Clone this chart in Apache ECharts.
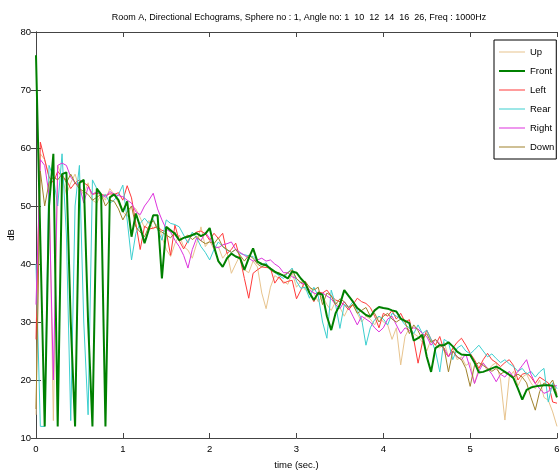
<!DOCTYPE html>
<html>
<head>
<meta charset="utf-8">
<script src="https://cdn.jsdelivr.net/npm/echarts@6/dist/echarts.min.js"></script>
<style>html,body{margin:0;padding:0;background:#fff}#c{width:560px;height:473px}</style>
</head>
<body>
<div id="c"></div>
<script>
const titleText = 'Room A, Directional Echograms, Sphere no : 1, Angle no: 1  10  12  14  16  26, Freq : 1000Hz';
const seriesNames = ['Up', 'Front', 'Left', 'Rear', 'Right', 'Down'];
const xTickLabels = ['0', '1', '2', '3', '4', '5', '6'];
const yTickLabels = ['10', '20', '30', '40', '50', '60', '70', '80'];

const time = [0,0.05,0.1,0.15,0.2,0.25,0.3,0.35,0.4,0.45,0.5,0.55,0.6,0.65,0.7,0.75,0.8,0.85,0.9,0.95,
1,1.05,1.1,1.15,1.2,1.25,1.3,1.35,1.4,1.45,1.5,1.55,1.6,1.65,1.7,1.75,1.8,1.85,1.9,1.95,
2,2.05,2.1,2.15,2.2,2.25,2.3,2.35,2.4,2.45,2.5,2.55,2.6,2.65,2.7,2.75,2.8,2.85,2.9,2.95,
3,3.05,3.1,3.15,3.2,3.25,3.3,3.35,3.4,3.45,3.5,3.55,3.6,3.65,3.7,3.75,3.8,3.85,3.9,3.95,
4,4.05,4.1,4.15,4.2,4.25,4.3,4.35,4.4,4.45,4.5,4.55,4.6,4.65,4.7,4.75,4.8,4.85,4.9,4.95,
5,5.05,5.1,5.15,5.2,5.25,5.3,5.35,5.4,5.45,5.5,5.55,5.6,5.65,5.7,5.75,5.8,5.85,5.9,5.95,6];

const up = [14,59,58,55,13,57,55,52,54,55.5,53,52,54,51,50.5,52,51,53,52,50.5,
49,48.2,50,49.5,48,46.2,47.5,46,47,44.7,42.5,41.3,43.5,45,43,42.4,41,43.5,46.4,43,
44,42.5,43,41,42,38.4,40,41.5,39,38.5,40.5,39.5,35,32.3,36,38,37.5,37,36.5,38.5,
36,37,35.5,36,35,33.5,34.5,33,32,33.5,32.5,31,32.5,33,31.5,30,31,30.5,29.5,31,
30,29.5,27,29,22.6,27.5,29,28,27.5,26.5,25,27,26,25.5,26.5,24,25.5,23.5,24,22.5,
23,19.4,22,23,21.5,22.5,23,20,13.1,20.5,21.5,19,20.5,21,19.5,18.5,20,17,16.5,14.5,12];

const front = [76,44,12,50,59,12,55.5,55.8,30,12,54,54.5,30,12,53,52,12,51.5,52,51,
49,50.8,44.7,48.7,46.4,43.6,46,48.4,48.4,37.5,46.4,45.8,45.2,44.1,44.5,44.7,45,45.3,44.8,45.2,
46.2,43,40.5,39.5,41,41.8,41.3,41,39,41,42.7,40.4,40,39.8,39.2,38.7,38.3,38,37.5,38.7,
38.5,37.5,36.7,35,33.8,35,34.7,31,28.6,31.5,33,35.5,34.5,33.5,32.4,31.8,31.2,30.9,32,32.6,
32.4,32.3,32,31.8,30.6,30.2,29.8,26.8,27.2,27.8,24,21.4,25.5,26,26,26.5,25.8,24.9,24.4,24.3,
24.3,23,21.3,21.4,21.7,22,22.3,21.9,21.4,20.9,20.3,18.5,16.6,18.3,18.7,18.9,19,19.1,19.1,19,17];

const left = [27,61,58,55,54,56,55,54.5,53,54,54.5,54,53.5,52,52.2,52,51.8,52.1,52,52.3,
51,53.5,51.4,47,42.5,46.5,46,46.2,46.4,45.8,45.6,41.5,46.7,44,42.6,44,45,45.5,45.7,45.2,
44.1,45.3,44.4,45.3,41.8,42.5,43.6,41,37.5,34.1,38.4,39,39.5,39.4,39.3,36.7,37.8,36.7,37,37.2,
34,35.5,37,35,33.5,35.2,35,35.5,34.5,33.8,33.5,33,32.1,33,34.1,33.5,33.2,32.5,31,29,
31.5,31,32,30.5,31.5,30,30.4,27,22.9,26.5,28.6,27,26,27.5,25,24,25.5,26.5,27.2,26,
24.6,23.5,22,23.5,24.6,23.5,23,22.3,23,23.5,22.5,20,21,21.2,20.5,19.4,20.5,20,19.5,16.2,16];

const rear = [40,12,12,57,55,50,59,45,13,50,57,30,14,54.5,53,51.5,52,50.5,51,52,
53.6,47.6,40.7,45.3,47,47.9,47,47.7,46,44.1,47.6,47,46.8,46.4,45,43.6,45.5,44.5,43,42,
40.7,42.5,43.8,43,42.4,42,42.5,41.8,41.6,41.4,41.3,40.5,39.8,40.2,39,38.5,38,37.5,38.5,39.3,
37,35.8,36,34.1,36,34.5,30,27.2,35.5,33,28.9,33,32.5,33.5,32,30.5,26,29,30.4,31,
30.5,29.5,31.5,31,30.5,29.5,29,28,29.5,28,28.6,27,25,21.4,27,26.5,23.5,25.5,26,25,
24.5,25.2,26,25,24,24.5,23.7,23,23.5,22.8,22.3,21.5,22,21,21.5,20.5,21.4,22,16.2,19.5,18.5];

const right = [33,58,57,52,20,57,57.4,57,55,54,53.5,50.5,53.3,52,52.5,52,51.5,52.5,52,51.8,
51.6,51,50.5,49,48.5,50,51,52.2,49.5,47.6,46,45.5,44.1,43,41.5,39.3,42.5,44.5,44,45.5,
44.4,43,42.8,43.3,43.5,43.8,42.5,42,41.5,41,40.5,40.7,41,40.5,40.7,40,39.5,38.5,38.5,37.8,
37.5,36.7,36.5,35.5,35,34.7,35,34.5,34,33,32.3,33.5,32.5,31,29.5,31,30.5,30,29,28.3,
29,30.5,31,29.5,28,29,28.5,29,28.8,28,27.5,26,27,26.3,25.5,24,25,24,23.5,24.5,
22,19.4,21.5,22.9,22,21,19.7,21,20.5,21.5,20.5,21.5,22.5,23.5,21,19.4,18.5,17.7,18,19,19];

const down = [15,56,50,54,55,54.5,55.5,54,55.5,54,53,52.5,52,51,51.5,52,50,51,50.8,49.5,
47.6,49,50,46.4,45.5,44.7,46.5,47.5,46,45.5,45,44.5,45.5,44,44.5,45,44.2,44.8,44,43.5,
43.8,43.5,44.5,43,42.5,42,42.5,41.5,40.5,41.5,41,40,39.5,40,39,38.5,38.5,38,38.5,39,
37.5,36.8,37,36,35.5,36,33,35,34.5,33,34,33.5,32.5,33,31.5,32,32.5,31,31.5,30,
31,31.5,30.5,30,30.5,30,28,29.5,28.5,27,28,26.5,27,26,25.5,21.4,25,24,23.5,22,
18.9,22.5,23,22.5,22,21.5,22,21,21.5,21,20.5,21,20.5,19.5,17,14.8,18,19.5,19,20,17.5];

const values = [up, front, left, rear, right, down];
const colors = ['#e8c48e', '#008000', '#ff3a3a', '#3ccfcf', '#dd33dd', '#a0822c'];
const widths = [1, 2, 1, 1, 1, 1];

const chart = echarts.init(document.getElementById('c'), null, {renderer: 'canvas'});
const font = '"Liberation Sans", Arial, sans-serif';
const axisCol = '#444';

// thin horizontal bar centred in the 26x14 legend icon box (hairline anchors keep the box size)
const thinIcon = 'path://M0,0L0.01,0M0,6.5L26,6.5L26,7.5L0,7.5ZM0,14L0.01,14';
const thickIcon = 'path://M0,0L0.01,0M0,6L26,6L26,8L0,8ZM0,14L0.01,14';

const series = seriesNames.map((name, k) => ({
  name: name,
  type: 'line',
  data: time.map((t, i) => [t, values[k][i]]),
  symbol: 'none',
  showSymbol: false,
  lineStyle: {color: colors[k], width: widths[k]},
  itemStyle: {color: colors[k]},
  emphasis: {disabled: true},
  animation: false,
  z: k === 1 ? 3 : 2
}));

chart.setOption({
  animation: false,
  backgroundColor: '#fff',
  textStyle: {fontFamily: font},
  title: {
    text: titleText,
    left: 294,
    textAlign: 'center',
    top: 8,
    textStyle: {fontSize: 9, fontWeight: 'normal', color: '#000', fontFamily: font}
  },
  legend: {
    data: seriesNames.map((n, k) => ({name: n, icon: k === 1 ? thickIcon : thinIcon})),
    orient: 'vertical',
    left: 494,
    top: 40,
    itemWidth: 26,
    itemHeight: 14,
    itemGap: 5,
    itemTextGap: 3,
    padding: [5, 2, 5, 5],
    borderColor: '#000',
    borderWidth: 1,
    borderRadius: 0,
    backgroundColor: '#fff',
    textStyle: {fontSize: 9.5, color: '#000', fontFamily: font},
    selectedMode: false
  },
  grid: {left: 36, top: 32, width: 521, height: 406, containLabel: false, outerBoundsMode: 'none'},
  xAxis: [{
    type: 'value', min: 0, max: 6, interval: 1,
    name: 'time (sec.)', nameLocation: 'middle', nameGap: 22,
    nameTextStyle: {fontSize: 9.5, color: '#000', fontFamily: font},
    axisLine: {show: true, lineStyle: {color: axisCol, width: 1}},
    axisTick: {show: true, inside: true, length: 5, lineStyle: {color: axisCol}},
    axisLabel: {fontSize: 9.5, color: '#000', margin: 6, fontFamily: font, formatter: v => xTickLabels[Math.round(v)]},
    splitLine: {show: false}
  }, {
    type: 'value', min: 0, max: 6, interval: 1, position: 'top',
    axisLine: {show: true, lineStyle: {color: axisCol, width: 1}},
    axisTick: {show: true, inside: true, length: 5, lineStyle: {color: axisCol}},
    axisLabel: {show: false}, splitLine: {show: false}
  }],
  yAxis: [{
    type: 'value', min: 10, max: 80, interval: 10,
    name: 'dB', nameLocation: 'middle', nameGap: 20, nameRotate: 90, nameMoveOverlap: false,
    nameTextStyle: {fontSize: 9.5, color: '#000', fontFamily: font},
    axisLine: {show: true, lineStyle: {color: axisCol, width: 1}},
    axisTick: {show: true, inside: true, length: 5, lineStyle: {color: axisCol}},
    axisLabel: {fontSize: 9.5, color: '#000', margin: 5, fontFamily: font, formatter: v => yTickLabels[Math.round((v - 10) / 10)]},
    splitLine: {show: false}
  }, {
    type: 'value', min: 10, max: 80, interval: 10, position: 'right',
    axisLine: {show: true, lineStyle: {color: axisCol, width: 1}},
    axisTick: {show: true, inside: true, length: 5, lineStyle: {color: axisCol}},
    axisLabel: {show: false}, splitLine: {show: false}
  }],
  series: series
});
</script>
</body>
</html>
